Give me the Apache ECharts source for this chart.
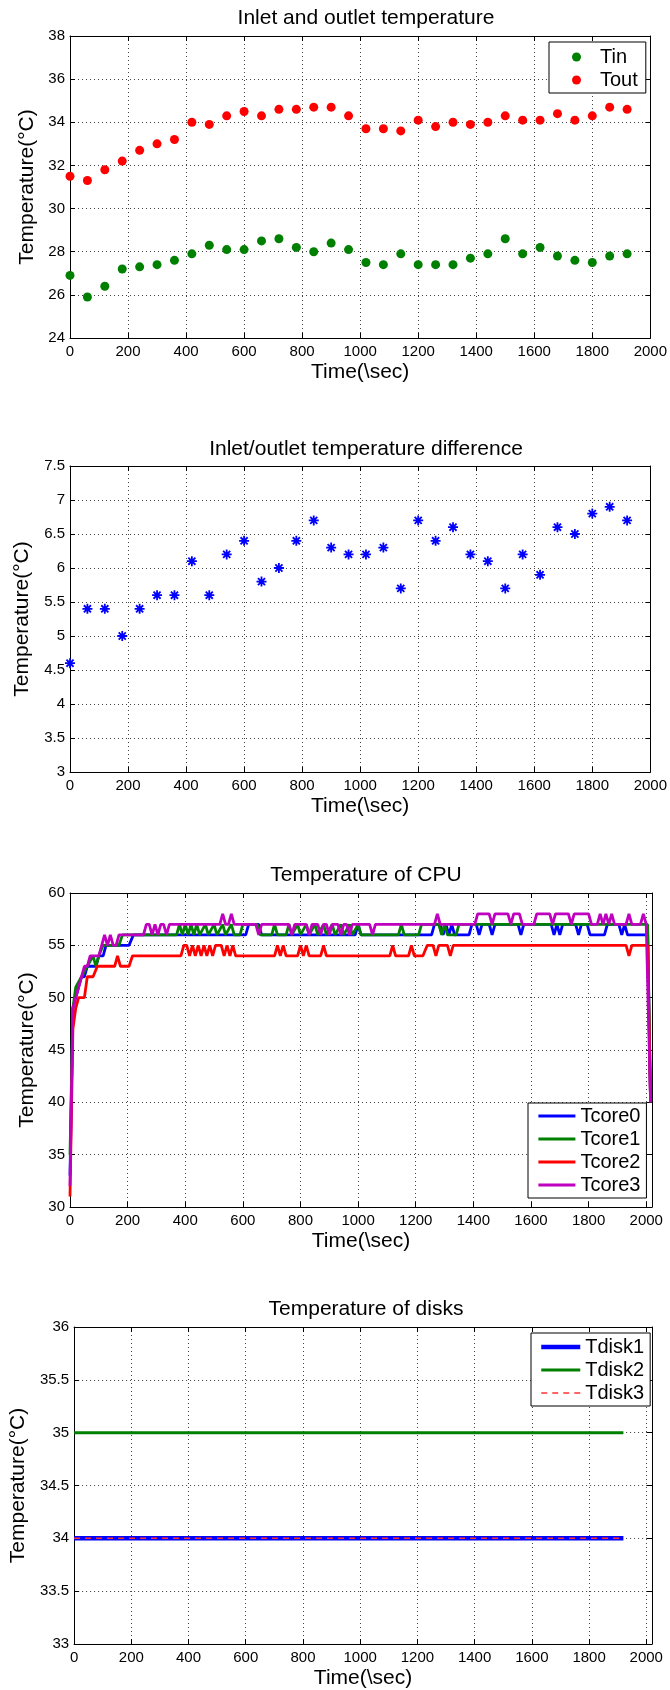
<!DOCTYPE html>
<html>
<head>
<meta charset="utf-8">
<script src="https://cdn.jsdelivr.net/npm/echarts@6/dist/echarts.min.js"></script>
<style>
  html, body { margin: 0; padding: 0; background: #fff; }
  #chart { width: 670px; height: 1690px; }
</style>
</head>
<body>
<div id="chart"></div>
<script>
// ---- sample times (s) for inlet/outlet and disk logs ----
const sampleTimes = [0, 60, 120, 180, 240, 300, 360, 420, 480, 540, 600, 660, 720, 780, 840, 900, 960,
  1020, 1080, 1140, 1200, 1260, 1320, 1380, 1440, 1500, 1560, 1620, 1680, 1740, 1800, 1860, 1920];

// ---- inlet / outlet temperature (°C) ----
const tIn = [26.9, 25.9, 26.4, 27.2, 27.3, 27.4, 27.6, 27.9, 28.3, 28.1, 28.1, 28.5, 28.6, 28.2, 28.0, 28.4, 28.1,
  27.5, 27.4, 27.9, 27.4, 27.4, 27.4, 27.7, 27.9, 28.6, 27.9, 28.2, 27.8, 27.6, 27.5, 27.8, 27.9];
const tOut = [31.5, 31.3, 31.8, 32.2, 32.7, 33.0, 33.2, 34.0, 33.9, 34.3, 34.5, 34.3, 34.6, 34.6, 34.7, 34.7, 34.3,
  33.7, 33.7, 33.6, 34.1, 33.8, 34.0, 33.9, 34.0, 34.3, 34.1, 34.1, 34.4, 34.1, 34.3, 34.7, 34.6];

// ---- inlet/outlet difference (°C) ----
const tDiff = [4.6, 5.4, 5.4, 5.0, 5.4, 5.6, 5.6, 6.1, 5.6, 6.2, 6.4, 5.8, 6.0, 6.4, 6.7, 6.3, 6.2,
  6.2, 6.3, 5.7, 6.7, 6.4, 6.6, 6.2, 6.1, 5.7, 6.2, 5.9, 6.6, 6.5, 6.8, 6.9, 6.7];

// ---- CPU core temperatures: [time (s), °C] at each change of reading ----
const tCore0 = [[0,33],[10,49],[20,50],[30,51],[40,52],[50,52],[60,53],[90,53],[100,54],[115,54],[125,55],[205,55],
  [220,56],[610,56],[620,57],[655,57],[665,56],[990,56],[1000,57],[1010,56],[1255,56],[1265,57],[1285,57],[1295,56],
  [1305,57],[1315,56],[1325,57],[1335,56],[1385,56],[1395,57],[1410,57],[1420,56],[1430,57],[1455,57],[1465,56],
  [1475,57],[1555,57],[1565,56],[1575,57],[1670,57],[1680,56],[1690,57],[1700,56],[1710,57],[1755,57],[1765,56],
  [1775,57],[1795,57],[1805,56],[1855,56],[1865,57],[1905,57],[1915,56],[1925,57],[1935,56],[2005,56],[2015,40]];
const tCore1 = [[0,35],[10,49],[20,51],[40,52],[60,53],[80,54],[90,53],[100,54],[115,55],[170,55],[182,56],[370,56],
  [380,57],[390,56],[400,57],[410,56],[420,57],[430,56],[440,57],[450,56],[470,57],[480,56],[500,57],[510,56],
  [530,57],[540,56],[560,57],[570,56],[590,56],[600,57],[650,57],[660,56],[700,56],[710,57],[720,56],[750,56],
  [760,57],[770,56],[790,57],[800,56],[820,57],[830,56],[850,57],[860,56],[880,57],[890,56],[910,57],[920,56],
  [940,57],[950,56],[970,57],[980,56],[1000,57],[1010,56],[1140,56],[1150,57],[1160,56],[1210,56],[1220,57],
  [1280,57],[1290,56],[1300,57],[1310,56],[1340,56],[1350,57],[2005,57],[2015,40]];
const tCore2 = [[0,31],[5,31],[10,47],[20,49],[30,50],[50,50],[60,52],[80,52],[95,53],[155,53],[165,54],[175,53],
  [205,53],[217,54],[385,54],[395,55],[405,55],[415,54],[425,55],[435,54],[445,55],[455,54],[465,55],[475,54],
  [485,55],[495,54],[505,55],[525,55],[535,54],[545,55],[555,54],[565,55],[575,54],[710,54],[720,55],[730,54],
  [740,55],[750,54],[790,54],[800,55],[810,54],[820,55],[830,54],[870,54],[880,55],[890,54],[1110,54],[1120,55],
  [1130,54],[1175,54],[1185,55],[1195,54],[1225,54],[1240,55],[1260,55],[1270,54],[1280,55],[1310,55],[1320,54],
  [1330,55],[1930,55],[1940,54],[1950,55],[2005,55],[2015,40]];
const tCore3 = [[0,32],[10,49],[20,50],[30,51],[50,53],[60,53],[70,54],[100,54],[110,55],[120,56],[130,55],[140,56],
  [150,55],[160,55],[170,56],[255,56],[265,57],[275,57],[285,56],[295,57],[305,56],[315,57],[325,57],[335,56],
  [345,57],[520,57],[530,58],[540,57],[550,57],[560,58],[570,57],[645,57],[655,56],[665,57],[760,57],[770,56],
  [780,57],[820,57],[830,56],[840,57],[860,57],[870,56],[880,57],[890,57],[900,56],[910,57],[930,57],[940,56],
  [950,57],[960,57],[970,56],[980,57],[1040,57],[1050,56],[1060,57],[1265,57],[1275,58],[1285,57],[1405,57],
  [1415,58],[1455,58],[1465,57],[1475,58],[1520,58],[1530,57],[1540,58],[1560,58],[1570,57],[1610,57],[1620,58],
  [1665,58],[1675,57],[1685,58],[1730,58],[1740,57],[1750,58],[1800,58],[1810,57],[1830,57],[1840,58],[1850,57],
  [1860,58],[1870,57],[1880,58],[1890,57],[1930,57],[1940,58],[1950,57],[1980,57],[1990,58],[2000,57],[2005,57],
  [2015,40]];

// ---- disk temperatures (°C) ----
const tDisk1 = [34, 34, 34, 34, 34, 34, 34, 34, 34, 34, 34, 34, 34, 34, 34, 34, 34,
  34, 34, 34, 34, 34, 34, 34, 34, 34, 34, 34, 34, 34, 34, 34, 34];
const tDisk2 = [35, 35, 35, 35, 35, 35, 35, 35, 35, 35, 35, 35, 35, 35, 35, 35, 35,
  35, 35, 35, 35, 35, 35, 35, 35, 35, 35, 35, 35, 35, 35, 35, 35];
const tDisk3 = [34, 34, 34, 34, 34, 34, 34, 34, 34, 34, 34, 34, 34, 34, 34, 34, 34,
  34, 34, 34, 34, 34, 34, 34, 34, 34, 34, 34, 34, 34, 34, 34, 34];

// ---- titles, axis names and tick steps ----
const panelTitles = ['Inlet and outlet temperature', 'Inlet/outlet temperature difference',
  'Temperature of CPU', 'Temperature of disks'];
const xName = 'Time(\\sec)';
const yName = 'Temperature(\u00B0C)';
const xTickStep = 200;

// ---- layout ----
const FONT = '"Liberation Sans", Arial, Helvetica, sans-serif';
const PLOT_LEFT = 70, PLOT_RIGHT = 18;
const panels = [
  { top: 36,   height: 302, xMax: 2000, yMin: 24, yMax: 38, yStep: 2,   yNameGap: 31, titleTop: 3 },
  { top: 466,  height: 306, xMax: 2000, yMin: 3,  yMax: 7.5, yStep: 0.5, yNameGap: 37, titleTop: 434 },
  { top: 893,  height: 314, xMax: 2020, yMin: 30, yMax: 60, yStep: 5,   yNameGap: 29, titleTop: 860 },
  { top: 1327, height: 317, xMax: 2020, yMin: 33, yMax: 36, yStep: 0.5, yNameGap: 44, titleTop: 1294 }
];

const gridLine = { show: true, lineStyle: { color: '#444', width: 1, type: [1, 3] } };
const frameLine = { show: true, onZero: false, lineStyle: { color: '#000', width: 1 } };
const innerTick = { show: true, inside: true, length: 5, lineStyle: { color: '#000', width: 1 } };

const grids = [], xAxes = [], yAxes = [], titles = [];
panels.forEach((p, i) => {
  grids.push({ left: PLOT_LEFT, right: PLOT_RIGHT, top: p.top, height: p.height, containLabel: false });
  titles.push({
    text: panelTitles[i], left: PLOT_LEFT + (670 - PLOT_LEFT - PLOT_RIGHT) / 2, top: p.titleTop,
    textAlign: 'center',
    textStyle: { fontFamily: FONT, fontSize: 21, fontWeight: 'normal', color: '#000' }
  });
  // bottom / top x axes
  xAxes.push({
    type: 'value', gridIndex: i, position: 'bottom', min: 0, max: p.xMax, interval: xTickStep,
    name: xName, nameLocation: 'middle', nameGap: 24,
    nameTextStyle: { fontFamily: FONT, fontSize: 21, color: '#000' },
    axisLine: frameLine, axisTick: innerTick,
    axisLabel: {
      color: '#000', fontFamily: FONT, fontSize: 15, margin: 6,
      formatter: v => (v % xTickStep === 0 ? String(v) : '')
    },
    splitLine: gridLine
  });
  xAxes.push({
    type: 'value', gridIndex: i, position: 'top', min: 0, max: p.xMax, interval: xTickStep,
    axisLine: frameLine, axisTick: innerTick, axisLabel: { show: false }, splitLine: { show: false }
  });
  // left / right y axes
  yAxes.push({
    type: 'value', gridIndex: i, position: 'left', min: p.yMin, max: p.yMax, interval: p.yStep,
    name: yName, nameLocation: 'middle', nameRotate: 90, nameGap: p.yNameGap,
    nameTextStyle: { fontFamily: FONT, fontSize: 21, color: '#000' },
    axisLine: frameLine, axisTick: innerTick,
    axisLabel: { color: '#000', fontFamily: FONT, fontSize: 15, margin: 5 },
    splitLine: gridLine
  });
  yAxes.push({
    type: 'value', gridIndex: i, position: 'right', min: p.yMin, max: p.yMax, interval: p.yStep,
    axisLine: frameLine, axisTick: innerTick, axisLabel: { show: false }, splitLine: { show: false }
  });
});

// asterisk marker (bar + bar + two diagonals)
const ASTERISK = 'path://M0 41H100V59H0Z M41 0H59V100H41Z M8 21L21 8L92 79L79 92Z M79 8L92 21L21 92L8 79Z';

const pairs = (xs, ys) => xs.map((x, k) => [x, ys[k]]);
const onPanel = i => ({ xAxisIndex: i * 2, yAxisIndex: i * 2 });

const series = [
  Object.assign({ name: 'Tin', type: 'scatter', symbol: 'circle', symbolSize: 9,
    itemStyle: { color: '#008000', opacity: 1 }, data: pairs(sampleTimes, tIn) }, onPanel(0)),
  Object.assign({ name: 'Tout', type: 'scatter', symbol: 'circle', symbolSize: 9,
    itemStyle: { color: '#ff0000', opacity: 1 }, data: pairs(sampleTimes, tOut) }, onPanel(0)),
  Object.assign({ name: 'dT', type: 'scatter', symbol: ASTERISK, symbolSize: 10,
    itemStyle: { color: '#0000ff', opacity: 1 }, data: pairs(sampleTimes, tDiff) }, onPanel(1))
];
[['Tcore0', tCore0, '#0000ff'], ['Tcore1', tCore1, '#008000'], ['Tcore2', tCore2, '#ff0000'], ['Tcore3', tCore3, '#bf00bf']]
  .forEach(([name, data, color]) => {
    series.push(Object.assign({ name, type: 'line', data, symbol: 'none', showSymbol: false,
      lineStyle: { color, width: 2.8 }, itemStyle: { color } }, onPanel(2)));
  });
[['Tdisk1', tDisk1, '#0000ff', 4.5, 'solid'], ['Tdisk2', tDisk2, '#008000', 3, 'solid'], ['Tdisk3', tDisk3, '#ff3333', 1.5, [6, 5]]]
  .forEach(([name, ys, color, width, type]) => {
    series.push(Object.assign({ name, type: 'line', data: pairs(sampleTimes, ys), symbol: 'none', showSymbol: false,
      lineStyle: { color, width, type }, itemStyle: { color } }, onPanel(3)));
  });

const legendText = { fontFamily: FONT, fontSize: 20, lineHeight: 20, color: '#000' };
const legendBox = { orient: 'vertical', selectedMode: false, backgroundColor: '#fff',
  borderColor: '#000', borderWidth: 1, borderRadius: 0, itemGap: 3 };
// line keys: only the stroke (at the series' own width and dash) is shown, the point marker is hidden
const lineKey = { itemWidth: 37, itemHeight: 2, itemStyle: { opacity: 0 },
  lineStyle: { width: 'inherit', type: 'inherit', color: 'inherit' } };
const legends = [
  Object.assign({}, legendBox, { left: 549, top: 42, data: ['Tin', 'Tout'], itemWidth: 9, itemHeight: 9,
    padding: [5, 8, 3, 23], textStyle: Object.assign({ padding: [0, 0, 0, 14] }, legendText) }),
  Object.assign({}, legendBox, lineKey, { left: 528, top: 1103, data: ['Tcore0', 'Tcore1', 'Tcore2', 'Tcore3'],
    padding: [3, 6, 3, 9], textStyle: legendText }),
  Object.assign({}, legendBox, lineKey, { left: 531, top: 1333, data: ['Tdisk1', 'Tdisk2', 'Tdisk3'],
    itemWidth: 39, padding: [4, 6, 3, 8], textStyle: legendText })
];

const chart = echarts.init(document.getElementById('chart'), null, { renderer: 'canvas' });
chart.setOption({
  animation: false,
  backgroundColor: '#fff',
  textStyle: { fontFamily: FONT },
  title: titles,
  grid: grids,
  xAxis: xAxes,
  yAxis: yAxes,
  legend: legends,
  series: series
});
</script>
</body>
</html>
